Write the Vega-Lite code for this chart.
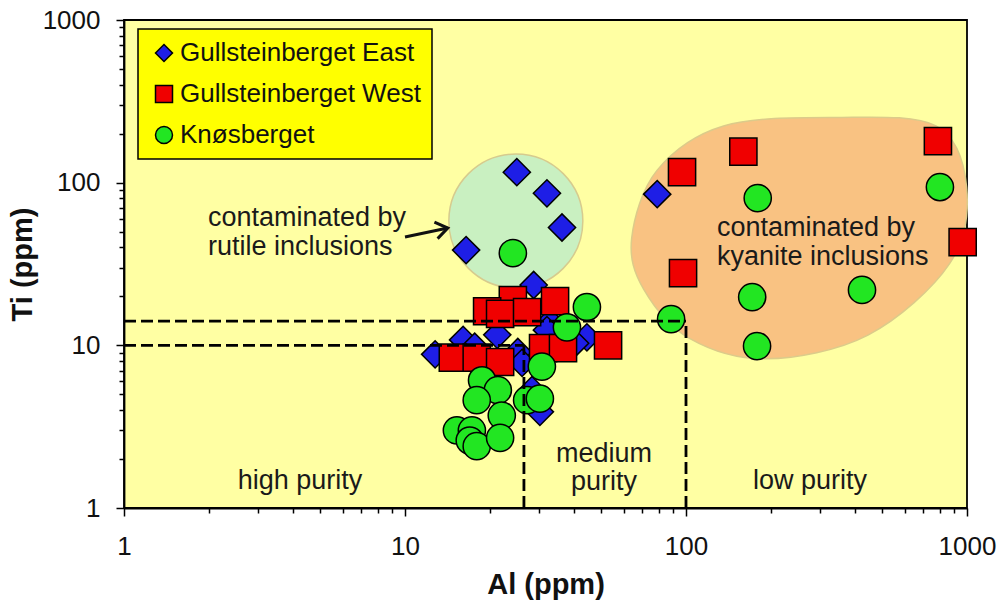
{
  "$schema": "https://vega.github.io/schema/vega-lite/v6.json",
  "width": 843,
  "height": 488,
  "autosize": {"type": "none"},
  "padding": {"left": 124, "top": 20, "right": 38, "bottom": 100},
  "background": "white",
  "config": {
    "font": "Liberation Sans",
    "view": {"fill": "#FFFFA3", "stroke": "black", "strokeWidth": 1.8},
    "legend": {"strokeWidth": 1.5}
  },
  "datasets": {
    "samples": [
      {"site": "Gullsteinberget East", "Al": 28.3, "Ti": 5.3},
      {"site": "Gullsteinberget East", "Al": 25.0, "Ti": 116},
      {"site": "Gullsteinberget East", "Al": 32.0, "Ti": 86},
      {"site": "Gullsteinberget East", "Al": 36.2, "Ti": 53},
      {"site": "Gullsteinberget East", "Al": 16.5, "Ti": 38.5},
      {"site": "Gullsteinberget East", "Al": 28.7, "Ti": 23.5},
      {"site": "Gullsteinberget East", "Al": 79, "Ti": 85},
      {"site": "Gullsteinberget East", "Al": 16.1, "Ti": 10.8},
      {"site": "Gullsteinberget East", "Al": 21.3, "Ti": 11.6},
      {"site": "Gullsteinberget East", "Al": 12.8, "Ti": 8.8},
      {"site": "Gullsteinberget East", "Al": 17.7, "Ti": 9.8},
      {"site": "Gullsteinberget East", "Al": 25.2, "Ti": 9.1},
      {"site": "Gullsteinberget East", "Al": 26.1, "Ti": 7.8},
      {"site": "Gullsteinberget East", "Al": 44.4, "Ti": 11.2},
      {"site": "Gullsteinberget East", "Al": 32.8, "Ti": 13.9},
      {"site": "Gullsteinberget East", "Al": 32.0, "Ti": 12.4},
      {"site": "Gullsteinberget East", "Al": 40.3, "Ti": 10.3},
      {"site": "Gullsteinberget East", "Al": 30.2, "Ti": 3.9},
      {"site": "Gullsteinberget West", "Al": 96.8, "Ti": 116},
      {"site": "Gullsteinberget West", "Al": 160, "Ti": 155},
      {"site": "Gullsteinberget West", "Al": 788, "Ti": 180},
      {"site": "Gullsteinberget West", "Al": 965, "Ti": 43.1},
      {"site": "Gullsteinberget West", "Al": 97.6, "Ti": 27.8},
      {"site": "Gullsteinberget West", "Al": 52.8, "Ti": 10.0},
      {"site": "Gullsteinberget West", "Al": 24.2, "Ti": 19.0},
      {"site": "Gullsteinberget West", "Al": 34.2, "Ti": 18.7},
      {"site": "Gullsteinberget West", "Al": 19.6, "Ti": 16.2},
      {"site": "Gullsteinberget West", "Al": 21.8, "Ti": 15.6},
      {"site": "Gullsteinberget West", "Al": 27.2, "Ti": 16.0},
      {"site": "Gullsteinberget West", "Al": 14.8, "Ti": 8.4},
      {"site": "Gullsteinberget West", "Al": 18.0, "Ti": 8.4},
      {"site": "Gullsteinberget West", "Al": 21.8, "Ti": 7.9},
      {"site": "Gullsteinberget West", "Al": 31.0, "Ti": 9.6},
      {"site": "Gullsteinberget West", "Al": 36.5, "Ti": 9.6},
      {"site": "Knøsberget", "Al": 180, "Ti": 80.4},
      {"site": "Knøsberget", "Al": 801, "Ti": 94},
      {"site": "Knøsberget", "Al": 172, "Ti": 19.8},
      {"site": "Knøsberget", "Al": 423, "Ti": 21.9},
      {"site": "Knøsberget", "Al": 179, "Ti": 9.9},
      {"site": "Knøsberget", "Al": 88.5, "Ti": 14.5},
      {"site": "Knøsberget", "Al": 24.2, "Ti": 36.9},
      {"site": "Knøsberget", "Al": 44.4, "Ti": 17.2},
      {"site": "Knøsberget", "Al": 37.7, "Ti": 12.9},
      {"site": "Knøsberget", "Al": 30.7, "Ti": 7.4},
      {"site": "Knøsberget", "Al": 18.8, "Ti": 6.1},
      {"site": "Knøsberget", "Al": 21.4, "Ti": 5.3},
      {"site": "Knøsberget", "Al": 18.0, "Ti": 4.6},
      {"site": "Knøsberget", "Al": 22.1, "Ti": 3.7},
      {"site": "Knøsberget", "Al": 27.2, "Ti": 4.6},
      {"site": "Knøsberget", "Al": 30.2, "Ti": 4.7},
      {"site": "Knøsberget", "Al": 15.3, "Ti": 3.0},
      {"site": "Knøsberget", "Al": 17.3, "Ti": 3.0},
      {"site": "Knøsberget", "Al": 17.0, "Ti": 2.6},
      {"site": "Knøsberget", "Al": 18.0, "Ti": 2.4},
      {"site": "Knøsberget", "Al": 21.8, "Ti": 2.7}
    ],
    "limits": [
      {"Al": 1, "Al2": 26.5, "Ti": 10, "Ti2": 10},
      {"Al": 1, "Al2": 100, "Ti": 14.1, "Ti2": 14.1},
      {"Al": 26.5, "Al2": 26.5, "Ti": 1, "Ti2": 10},
      {"Al": 100, "Al2": 100, "Ti": 1, "Ti2": 14.1}
    ]
  },
  "encoding": {
    "x": {
      "field": "Al",
      "type": "quantitative",
      "scale": {"type": "log", "domain": [1, 1000], "nice": false},
      "axis": {
        "values": [1,2,3,4,5,6,7,8,9,10,20,30,40,50,60,70,80,90,100,200,300,400,500,600,700,800,900,1000],
        "labelExpr": "datum.value == 1 || datum.value == 10 || datum.value == 100 || datum.value == 1000 ? toString(datum.value) : ''",
        "tickSize": {"condition": {"test": "datum.value == 1 || datum.value == 10 || datum.value == 100 || datum.value == 1000", "value": 8}, "value": 5},
        "tickColor": "black",
        "tickWidth": 1.5,
        "domainColor": "black",
        "domainWidth": 1.8,
        "grid": false,
        "labelFontSize": 26,
        "labelColor": "#111111",
        "labelPadding": 17,
        "labelOverlap": false,
        "labelFlush": false,
        "title": "Al (ppm)",
        "titleFontSize": 29,
        "titleFontWeight": "bold",
        "titleColor": "#111111",
        "titleBaseline": "middle",
        "titleY": 76
      }
    },
    "y": {
      "field": "Ti",
      "type": "quantitative",
      "scale": {"type": "log", "domain": [1, 1000], "nice": false},
      "axis": {
        "values": [1,2,3,4,5,6,7,8,9,10,20,30,40,50,60,70,80,90,100,200,300,400,500,600,700,800,900,1000],
        "labelExpr": "datum.value == 1 || datum.value == 10 || datum.value == 100 || datum.value == 1000 ? toString(datum.value) : ''",
        "tickSize": {"condition": {"test": "datum.value == 1 || datum.value == 10 || datum.value == 100 || datum.value == 1000", "value": 8}, "value": 5},
        "tickColor": "black",
        "tickWidth": 1.5,
        "domainColor": "black",
        "domainWidth": 1.8,
        "grid": false,
        "labelFontSize": 26,
        "labelColor": "#111111",
        "labelPadding": 16,
        "labelOverlap": false,
        "labelFlush": false,
        "title": "Ti (ppm)",
        "titleFontSize": 29,
        "titleFontWeight": "bold",
        "titleColor": "#111111",
        "titleAngle": -90,
        "titleBaseline": "middle",
        "titleAlign": "center",
        "titleX": -102,
        "titleY": 244
      }
    }
  },
  "layer": [
    {
      "data": {"values": [{"region": "rutile", "Al": 24.8, "Ti": 58.1}]},
      "mark": {"type": "point", "shape": "circle", "size": 17956, "filled": true, "fill": "#C9F0C1", "stroke": "#D6CB8E", "strokeWidth": 1.5, "opacity": 1}
    },
    {
      "data": {"values": [{"region": "kyanite", "Al": 254.5, "Ti": 45.6}]},
      "mark": {
        "type": "point",
        "shape": "M -0.99 0 C -0.977 -0.117 -0.93 -0.29 -0.84 -0.4 C -0.75 -0.51 -0.623 -0.608 -0.45 -0.66 C -0.277 -0.712 -0.008 -0.71 0.2 -0.71 C 0.408 -0.71 0.67 -0.728 0.8 -0.66 C 0.93 -0.592 0.967 -0.435 0.98 -0.3 C 0.993 -0.165 0.977 0.005 0.88 0.15 C 0.783 0.295 0.58 0.477 0.4 0.57 C 0.22 0.663 -0.025 0.707 -0.2 0.71 C -0.375 0.713 -0.53 0.658 -0.65 0.59 C -0.77 0.522 -0.863 0.398 -0.92 0.3 C -0.977 0.202 -1.003 0.117 -0.99 0 Z",
        "size": 115600,
        "filled": true,
        "fill": "#F9C282",
        "stroke": "#DCCB8A",
        "strokeWidth": 1.5,
        "opacity": 1
      }
    },
    {
      "data": {"values": [{"Al": 10.0, "Ti": 46.3, "Al2": 14.2, "Ti2": 52.6}]},
      "mark": {"type": "rule", "color": "#111111", "strokeWidth": 3},
      "encoding": {
        "x2": {"field": "Al2"},
        "y2": {"field": "Ti2"}
      }
    },
    {
      "data": {"values": [{"Al": 14.2, "Ti": 52.6}]},
      "mark": {"type": "point", "shape": "M -1 -0.7 L 0 0 L -1 0.7", "size": 576, "filled": false, "stroke": "#111111", "strokeWidth": 3, "angle": -11, "opacity": 1}
    },
    {
      "data": {"name": "samples"},
      "mark": {"type": "point", "filled": true, "stroke": "black", "strokeWidth": 1.5, "size": 740, "opacity": 1},
      "encoding": {
        "color": {
          "field": "site",
          "type": "nominal",
          "scale": {"domain": ["Gullsteinberget East", "Gullsteinberget West", "Knøsberget"], "range": ["#1E1EE6", "#F00000", "#22E622"]},
          "legend": {
            "title": null,
            "orient": "none",
            "legendX": 14,
            "legendY": 9,
            "fillColor": "#FFFF00",
            "strokeColor": "black",
            "padding": 11,
            "labelFontSize": 26,
            "labelLimit": 500,
            "labelColor": "#111111",
            "symbolSize": 289,
            "symbolStrokeColor": "black",
            "symbolStrokeWidth": 1.5,
            "rowPadding": 15,
            "labelOffset": 3,
            "symbolOffset": 2
          }
        },
        "shape": {
          "field": "site",
          "type": "nominal",
          "scale": {"domain": ["Gullsteinberget East", "Gullsteinberget West", "Knøsberget"], "range": ["diamond", "square", "circle"]},
          "legend": {
            "title": null,
            "orient": "none",
            "legendX": 14,
            "legendY": 9,
            "fillColor": "#FFFF00",
            "strokeColor": "black",
            "padding": 11,
            "labelFontSize": 26,
            "labelLimit": 500,
            "labelColor": "#111111",
            "symbolSize": 289,
            "symbolStrokeColor": "black",
            "symbolStrokeWidth": 1.5,
            "rowPadding": 15,
            "labelOffset": 3,
            "symbolOffset": 2
          }
        }
      }
    },
    {
      "data": {"name": "limits"},
      "mark": {"type": "rule", "color": "black", "strokeWidth": 2.8, "strokeDash": [12, 5]},
      "encoding": {
        "x2": {"field": "Al2"},
        "y2": {"field": "Ti2"}
      }
    },
    {
      "data": {"values": [
        {"label": "contaminated by\nrutile inclusions", "Al": 1.99, "Ti": 54.1},
        {"label": "contaminated by\nkyanite inclusions", "Al": 128.9, "Ti": 47.0}
      ]},
      "mark": {"type": "text", "align": "left", "baseline": "alphabetic", "fontSize": 27, "lineBreak": "\n", "lineHeight": 29, "color": "#1A1A1A"},
      "encoding": {"text": {"field": "label"}}
    },
    {
      "data": {"values": [
        {"label": "high purity", "Al": 4.23, "Ti": 1.309},
        {"label": "medium\npurity", "Al": 51.1, "Ti": 1.918},
        {"label": "low purity", "Al": 276, "Ti": 1.309}
      ]},
      "mark": {"type": "text", "align": "center", "baseline": "alphabetic", "fontSize": 27, "lineBreak": "\n", "lineHeight": 28, "color": "#1A1A1A"},
      "encoding": {"text": {"field": "label"}}
    }
  ]
}
